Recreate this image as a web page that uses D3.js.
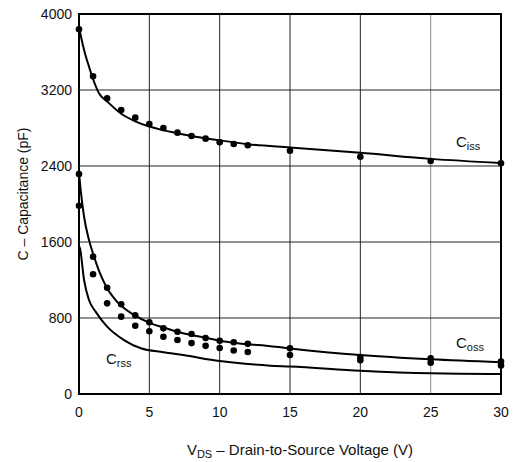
<!DOCTYPE html>
<html>
<head>
<meta charset="utf-8">
<script src="https://cdn.jsdelivr.net/npm/d3@7/dist/d3.min.js"></script>
<style>
	body{margin:0;background:#fff;}
	text{font-family:"Liberation Sans",Arial,sans-serif;fill:#111;}
</style>
</head>
<body>
<div id="chart"></div>
<script>
// measured points (V, pF)
var vPts = [0,1,2,3,4,5,6,7,8,9,10,11,12,15,20,25,30];
var cissPts = [3839,3345,3112,2989,2909,2842,2800,2751,2716,2688,2649,2632,2618,2561,2498,2453,2428];
var cossUpperPts = [2316,1446,1119,944,828,754,691,656,632,590,560,544,528,482,390,375,342];
var cossLowerPts = [1982,1260,954,814,719,660,602,568,536,507,484,458,442,410,356,330,300];

// typical curves
var cissV = [0,0.36,0.71,1.07,1.42,2,3,4,5,6,7,8,10,12,15,20,25,30];
var cissC = [3860,3621,3446,3287,3165,3080,2950,2870,2815,2775,2745,2715,2670,2630,2595,2540,2475,2432];
var cossV = [0,0.12,0.36,0.71,1.07,1.54,2,2.7,3.9,5.1,6,7,8,9,10,11,12,13.3,15,20,25,30];
var cossC = [2330,2147,1866,1621,1446,1253,1112,972,832,744,700,656,621,593,561,540,523,509,480,410,365,335];
var crssV = [0,0.07,0.36,0.71,1.18,2,3.2,4.4,6,7.4,10,12,13.6,15,20,25,30];
var crssC = [1560,1533,1200,989,867,709,568,481,440,410,347,315,298,290,246,218,210];

var xTicks = [0,5,10,15,20,25,30];
var yTicks = [0,800,1600,2400,3200,4000];

var W = 514, H = 462;
var x0 = 79, x1 = 501, yTop = 14, yBot = 394;

var svg = d3.select("#chart").append("svg").attr("width",W).attr("height",H);

var x = d3.scaleLinear().domain([0,30]).range([x0,x1]);
var y = d3.scaleLinear().domain([0,4000]).range([yBot,yTop]);

// grid
svg.append("g").selectAll("line").data(xTicks.slice(1,-1)).enter().append("line")
	.attr("x1",function(d){return x(d);}).attr("x2",function(d){return x(d);})
	.attr("y1",yTop).attr("y2",yBot)
	.style("stroke",function(d){return d==25?"#888":"#222";}).style("stroke-width",1);
svg.append("g").selectAll("line").data(yTicks.slice(1,-1)).enter().append("line")
	.attr("x1",x0).attr("x2",x1)
	.attr("y1",function(d){return y(d);}).attr("y2",function(d){return y(d);})
	.style("stroke","#222").style("stroke-width",1);

// tick labels
svg.append("g").selectAll("text").data(xTicks).enter().append("text")
	.attr("x",function(d){return x(d);}).attr("y",417)
	.attr("text-anchor","middle").style("font-size","14px")
	.text(function(d){return d;});
svg.append("g").selectAll("text").data(yTicks).enter().append("text")
	.attr("x",72).attr("y",function(d){return y(d)+5;})
	.attr("text-anchor","end").style("font-size","14px")
	.text(function(d){return d;});

// curves
var line = d3.line().x(function(d){return x(d[0]);}).y(function(d){return y(d[1]);}).curve(d3.curveMonotoneX);
function pairs(a,b){return a.map(function(v,i){return [v,b[i]];});}

[[cissV,cissC],[cossV,cossC],[crssV,crssC]].forEach(function(s){
	svg.append("path").datum(pairs(s[0],s[1]))
		.attr("d",line)
		.style("fill","none").style("stroke","#000").style("stroke-width",2);
});

// points
[cissPts,cossUpperPts,cossLowerPts].forEach(function(s){
	svg.append("g").selectAll("circle").data(pairs(vPts,s)).enter().append("circle")
		.attr("cx",function(d){return x(d[0]);})
		.attr("cy",function(d){return y(d[1]);})
		.attr("r",3.3).style("fill","#000");
});

// frame
svg.append("rect").attr("x",x0).attr("y",yTop).attr("width",x1-x0).attr("height",yBot-yTop)
	.style("fill","none").style("stroke","#000").style("stroke-width",2);

// curve labels
function subLabel(px,py,main,sub){
	var t = svg.append("text").attr("x",px).attr("y",py).style("font-size","15px");
	t.append("tspan").text(main);
	t.append("tspan").attr("dy",3).style("font-size","11px").text(sub);
}
subLabel(456,147,"C","iss");
subLabel(456,348,"C","oss");
subLabel(106,364,"C","rss");

// axis titles
var xt = svg.append("text").attr("x",300).attr("y",455).attr("text-anchor","middle").style("font-size","15px");
xt.append("tspan").text("V");
xt.append("tspan").attr("dy",3).style("font-size","11px").text("DS");
xt.append("tspan").attr("dy",-3).text(" – Drain-to-Source Voltage (V)");

svg.append("text").attr("transform","translate(28,"+((yTop+yBot)/2-10)+") rotate(-90)")
	.attr("text-anchor","middle").style("font-size","14px")
	.text("C – Capacitance (pF)");
</script>
</body>
</html>
